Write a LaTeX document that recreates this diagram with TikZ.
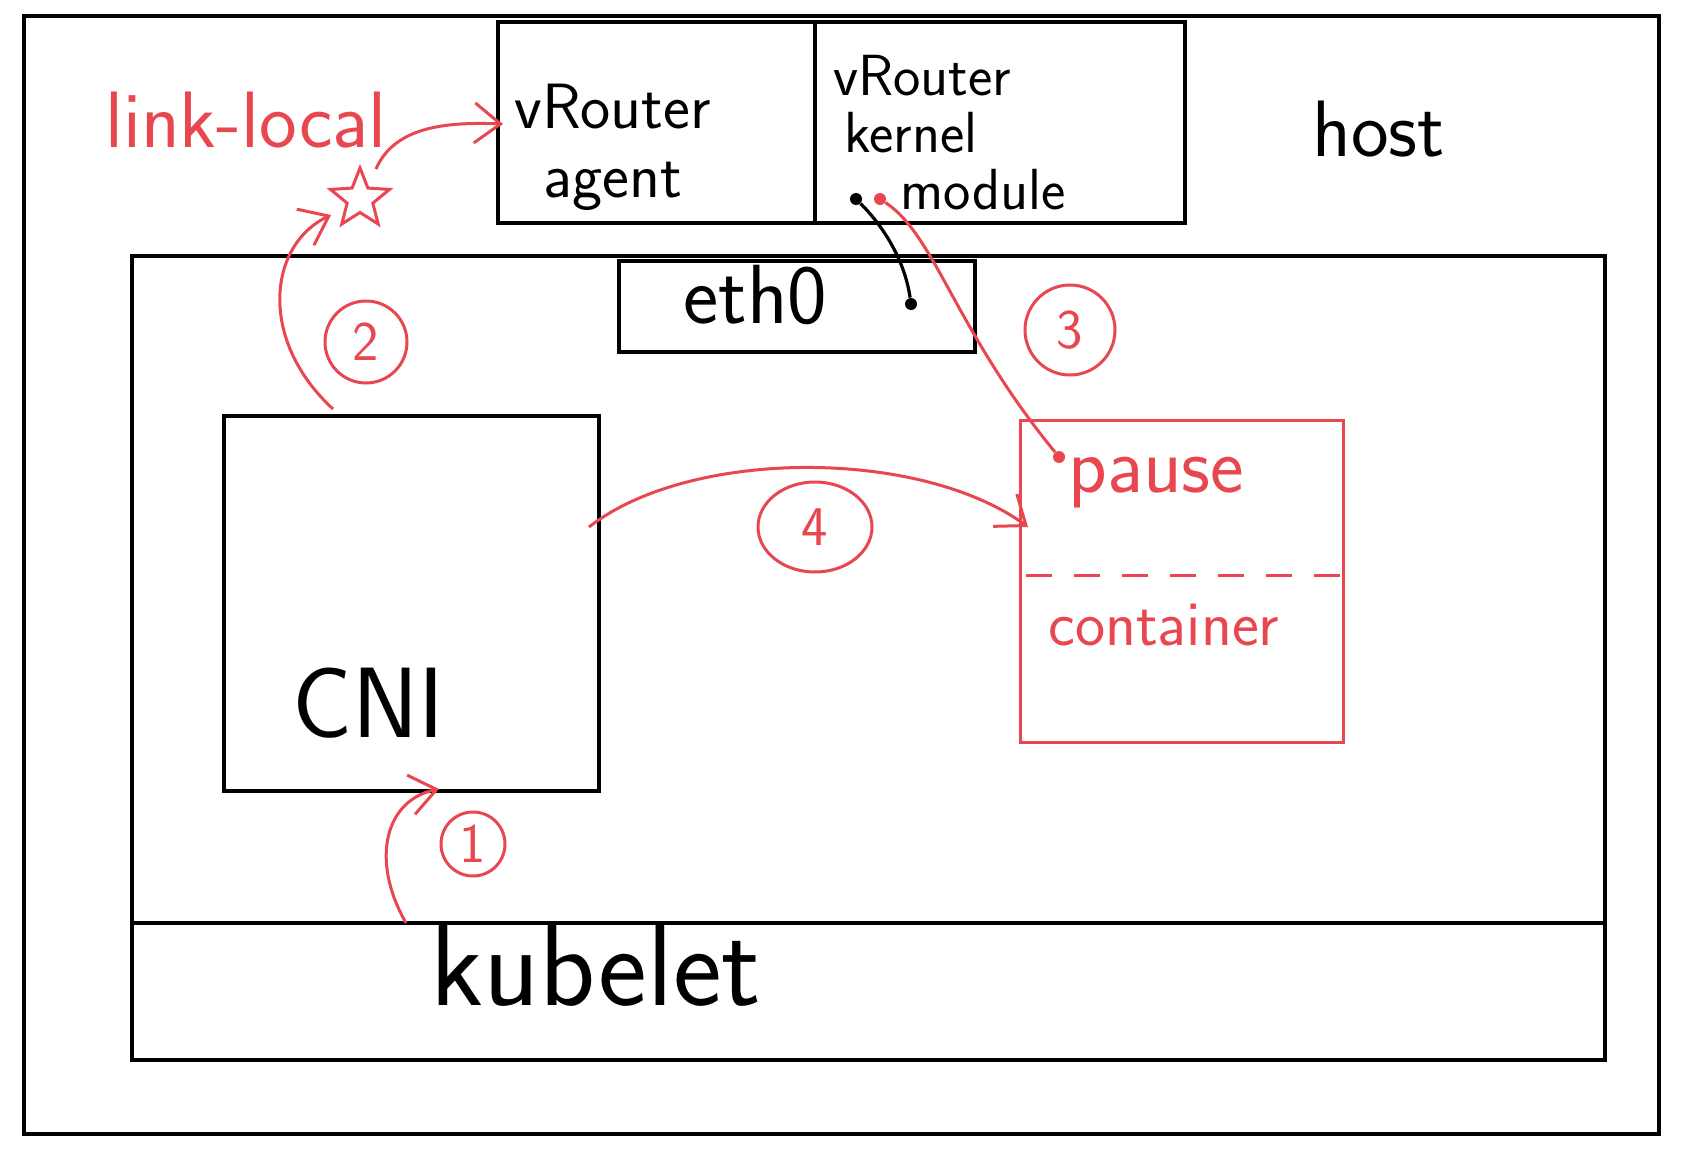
\documentclass[tikz,border=0pt]{standalone}
\usepackage{fontspec}
\usetikzlibrary{arrows.meta,shapes.geometric,fit}
\definecolor{hred}{HTML}{E8474F}
\begin{document}
\begin{tikzpicture}[x=0.5pt,y=-0.5pt,
  box/.style={draw=black,line width=1.6pt,inner sep=0pt},
  rbox/.style={draw=hred,line width=1.5pt,inner sep=0pt},
  lbl/.style={font=\sffamily\fontsize{#1}{#1}\selectfont,inner sep=0pt,anchor=base west},
  rlbl/.style={lbl=#1,text=hred},
  rlink/.style={draw=hred,line width=1.5pt,-{Straight Barb[length=13pt,width=20pt,line width=1.5pt]}},
  num/.style={draw=hred,line width=1.5pt,circle,inner sep=0pt,text=hred,font=\sffamily\fontsize{28}{28}\selectfont},
  dot/.style={circle,fill=#1,inner sep=0pt,minimum size=6pt},
  rdash/.style={draw=hred,line width=1.5pt,dash pattern=on 13pt off 11pt},
]
\useasboundingbox (0,0) rectangle (1686,1172);
% boxes
\node[box,fit={(24,16) (1659,1134)}] (host) {};
\node[box,fit={(498,22) (815,223)}] (agent) {};
\node[box,fit={(815,22) (1185,223)}] (kernel) {};
\node[box,fit={(132,256) (1605,1060)}] (node) {};
\node[box,fit={(132,923) (1605,1060)}] (kubelet) {};
\node[box,fit={(619,261) (975,352)}] (eth) {};
\node[box,fit={(224,416) (599,791)}] (cni) {};
\node[rbox,fit={(1020,420) (1343,742)}] (pause) {};
% texts
\node[lbl=40] (thost) at (1312,156) {host};
\node[rlbl=40] (tlink) at (105,148) {link-local};
\node[lbl=32] (tagent1) at (514,128) {vRouter};
\node[lbl=32] (tagent2) at (543,198) {agent};
\node[lbl=29] (tkern1) at (833,96) {vRouter};
\node[lbl=29] (tkern2) at (844,153) {kernel};
\node[lbl=29] (tkern3) at (900,209) {module};
\node[lbl=42] (teth) at (683,323) {eth0};
\node[lbl=50] (tcni) at (292,737) {CNI};
\node[lbl=58] (tkub) at (430,1005) {kubelet};
\node[rlbl=40] (tpause) at (1068,492) {pause};
\node[rlbl=32] (tcont) at (1048,645) {container};
% dashed separator
\coordinate (dl) at (1026,575);
\coordinate (dr) at (1340,575);
\draw[rdash] (dl) -- (dr);
% numbered circles
\node[num,minimum size=41pt] (n2) at (366,342) {2};
\node[num,minimum size=45pt] (n3) at (1070,330) {3};
\node[num,ellipse,minimum width=57pt,minimum height=45pt] (n4) at (815,527) {4};
\node[num,minimum size=32pt] (n1) at (473,844) {1};
% star
\node[draw=hred,line width=1.5pt,star,star points=5,star point ratio=2.3,minimum size=31pt,inner sep=0pt] (star) at (360,199) {};
% dots
\node[dot=black] (dkb) at (856,199) {};
\node[dot=black] (deth) at (911,304) {};
\node[dot=hred] (dkr) at (880,199) {};
\node[dot=hred] (dpause) at (1059,457) {};
% connector anchors
\coordinate (k1) at (406,923);
\coordinate (cniB) at (439,789);
\coordinate (cniT) at (333,409);
\coordinate (starIn) at (331,215);
\coordinate (starOut) at (376,169);
\coordinate (agentL) at (503,124);
\coordinate (cniR) at (589,527);
\coordinate (pauseL) at (1028,527);
% connectors
\draw[rlink] (k1) .. controls (370,860) and (385,800) .. (cniB);
\draw[rlink] (cniT) .. controls (258,340) and (268,245) .. (starIn);
\draw[rlink] (starOut) .. controls (395,125) and (450,122) .. (agentL);
\draw[rlink] (cniR) .. controls (690,448) and (920,448) .. (pauseL);
\draw[black,line width=1.6pt] (dkb) .. controls (885,228) and (905,262) .. (deth);
\draw[hred,line width=1.5pt] (dkr) .. controls (935,235) and (955,330) .. (dpause);
\end{tikzpicture}
\end{document}
